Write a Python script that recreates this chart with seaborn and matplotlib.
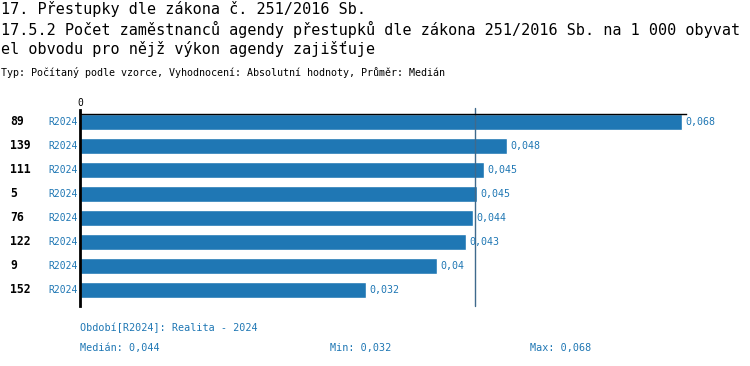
import pandas as pd
import seaborn as sns

import matplotlib

matplotlib.use("Agg")
import matplotlib.pyplot as plt
from matplotlib.transforms import blended_transform_factory

sns.set_style("white")
plt.rcParams["font.family"] = ["DejaVu Sans Mono", "DejaVu Sans"]
plt.rcParams["text.color"] = "black"

# data
row_ids = ["89", "139", "111", "5", "76", "122", "9", "152"]
period = ["R2024"] * 8
values = [0.0676, 0.0480, 0.0454, 0.0446, 0.0442, 0.0434, 0.0401, 0.0321]
x_max = 0.0681

title_lines = [
    "17. Přestupky dle zákona č. 251/2016 Sb.",
    "17.5.2 Počet zaměstnanců agendy přestupků dle zákona 251/2016 Sb. na 1 000 obyvat",
    "el obvodu pro nějž výkon agendy zajišťuje",
]
subtitle = "Typ: Počítaný podle vzorce, Vyhodnocení: Absolutní hodnoty, Průměr: Medián"
period_note = "Období[R2024]: Realita - 2024"

BLUE = "#1f77b4"


def fmt(v):
    s = f"{round(v, 3):.3f}".rstrip("0").rstrip(".")
    return s.replace(".", ",")


df = pd.DataFrame({"id": row_ids, "period": period, "value": values})
median_value = df["value"].median()

fig = plt.figure(figsize=(7.5, 3.66), dpi=100)
ax = fig.add_axes([80 / 750, 1 - 306 / 366, 606 / 750, 192 / 366])

sns.barplot(
    data=df,
    x="value",
    y="id",
    order=row_ids,
    color=BLUE,
    saturation=1,
    width=0.66,
    ax=ax,
)
ax.set_xlim(0, x_max)
ax.set_ylim(len(row_ids) - 0.33, -0.33)
ax.set_xlabel("")
ax.set_ylabel("")
ax.set_yticks([])
ax.xaxis.tick_top()
ax.set_xticks([0])
ax.set_xticklabels(["0"], fontsize=7)
ax.tick_params(axis="x", length=3, width=1, pad=1, colors="black")

for side in ["right", "bottom"]:
    ax.spines[side].set_visible(False)
ax.spines["top"].set_linewidth(1.0)
ax.spines["top"].set_color("black")
ax.spines["left"].set_linewidth(2.0)
ax.spines["left"].set_color("black")
ax.spines["left"].set_bounds(len(row_ids) - 0.33, -0.5)

# median line
ax.axvline(median_value, color="#3f6a8c", linewidth=1, ymin=0, ymax=1.03, clip_on=False)

trans = blended_transform_factory(fig.transFigure, ax.transData)
for i, (rid, per, v) in enumerate(zip(row_ids, period, values)):
    fig.text(10 / 750, i, rid, transform=trans, fontsize=8.3, fontweight="bold",
             va="center", ha="left", color="black")
    fig.text(48 / 750, i, per, transform=trans, fontsize=7, va="center",
             ha="left", color=BLUE)
    ax.annotate(fmt(v), (v, i), xytext=(2.5, 0), textcoords="offset points",
                fontsize=7.2, va="center", ha="left", color=BLUE)

# titles
for k, y in enumerate([9, 29, 49]):
    fig.text(1 / 750, 1 - y / 366, title_lines[k], fontsize=10.9, va="center")
fig.text(1 / 750, 1 - 72 / 366, subtitle, fontsize=7.2, va="center")

# footer
fig.text(80 / 750, 1 - 328 / 366, period_note, fontsize=7.3, color=BLUE, va="center")
fig.text(80 / 750, 1 - 348 / 366, f"Medián: {fmt(median_value)}", fontsize=7.3,
         color=BLUE, va="center")
fig.text(330 / 750, 1 - 348 / 366, f"Min: {fmt(min(values))}", fontsize=7.3,
         color=BLUE, va="center")
fig.text(530 / 750, 1 - 348 / 366, f"Max: {fmt(max(values))}", fontsize=7.3,
         color=BLUE, va="center")

fig.savefig("out.png", dpi=100, facecolor="white")
